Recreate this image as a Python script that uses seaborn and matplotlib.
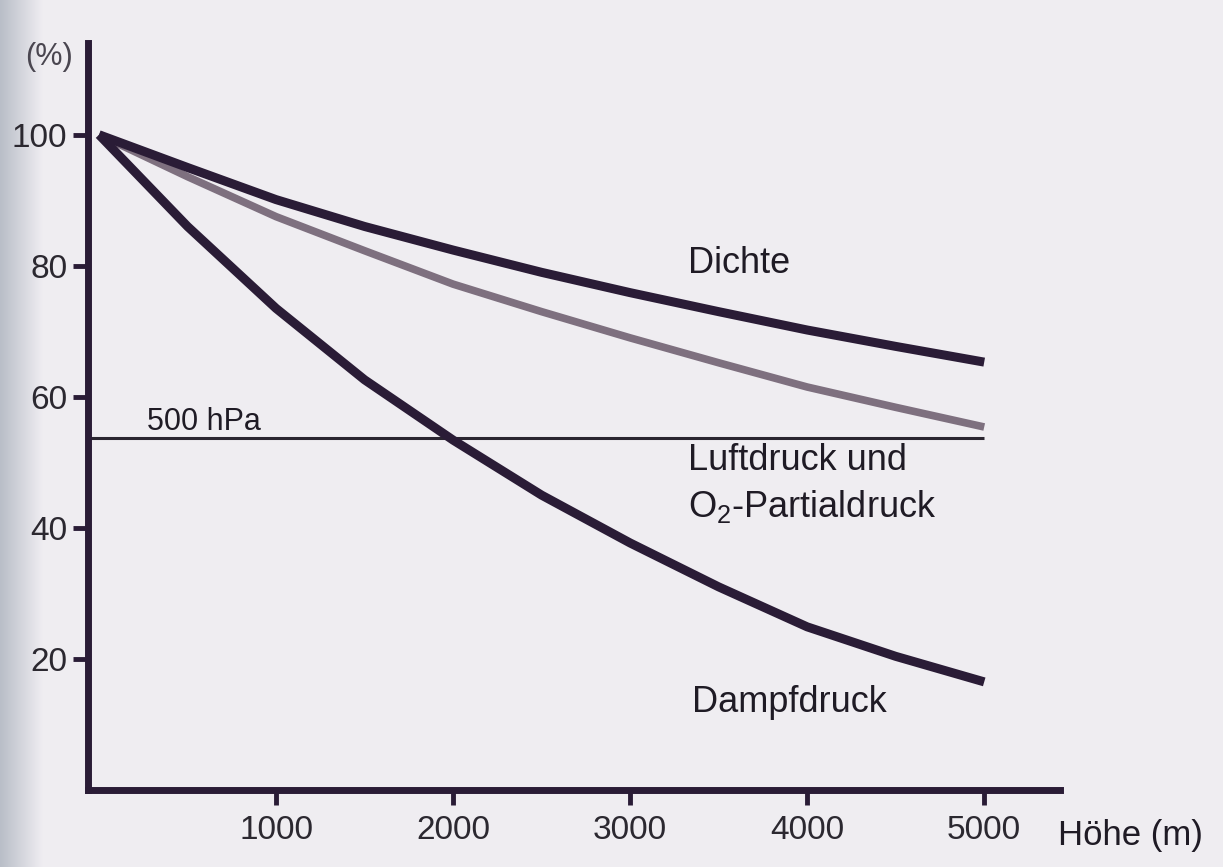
import numpy as np
import pandas as pd
import matplotlib.pyplot as plt
import seaborn as sns

sns.set_theme(style="white")
plt.rcParams['font.family'] = ['Liberation Sans', 'DejaVu Sans']
plt.rcParams['mathtext.fontset'] = 'custom'
plt.rcParams['mathtext.rm'] = 'Liberation Sans'

# Werte (% des Wertes auf Meereshöhe)
hoehe = [0, 500, 1000, 1500, 2000, 2500, 3000, 3500, 4000, 4500, 5000]
dichte = [100, 95.0, 90.1, 86.0, 82.4, 79.0, 75.9, 73.0, 70.2, 67.7, 65.3]
luftdruck = [100, 93.6, 87.5, 82.3, 77.2, 73.0, 69.0, 65.2, 61.5, 58.4, 55.4]
dampfdruck = [100, 86.0, 73.5, 62.6, 53.4, 45.0, 37.7, 31.0, 24.9, 20.4, 16.5]
linie_500hpa = 53.7

x_ticks = [1000, 2000, 3000, 4000, 5000]
y_ticks = [20, 40, 60, 80, 100]

df = pd.DataFrame({'Höhe': hoehe, 'Dichte': dichte,
                   'Luftdruck': luftdruck, 'Dampfdruck': dampfdruck})

bg = '#efedf1'
dunkel = '#2a1c36'
grau = '#7e707f'

fig = plt.figure(figsize=(12.23, 8.67), dpi=100, facecolor=bg)

# grauer Rand links (Scan)
rand = fig.add_axes([0, 0, 0.035, 1], zorder=-1)
grad = np.linspace(0, 1, 50).reshape(1, -1)
rand.imshow(grad, aspect='auto', cmap=sns.blend_palette(['#b9bec8', bg], as_cmap=True),
            extent=[0, 1, 0, 1])
rand.axis('off')

ax = fig.add_axes([0.072, 0.0888, 0.795, 0.8616])
ax.set_facecolor(bg)

sns.lineplot(data=df, x='Höhe', y='Dichte', ax=ax, color=dunkel, linewidth=6.5,
             solid_capstyle='butt', zorder=4)
sns.lineplot(data=df, x='Höhe', y='Luftdruck', ax=ax, color=grau, linewidth=5.5,
             solid_capstyle='butt', zorder=3)
sns.lineplot(data=df, x='Höhe', y='Dampfdruck', ax=ax, color=dunkel, linewidth=6.5,
             solid_capstyle='butt', zorder=4)
ax.hlines(linie_500hpa, -62, 5000, color='#2a2530', linewidth=2.2, zorder=2)

ax.set_xlim(-62, 5430)
ax.set_ylim(0, 114)
ax.set_xticks(x_ticks)
ax.set_yticks(y_ticks)
ax.set_xlabel('')
ax.set_ylabel('')
ax.tick_params(axis='both', direction='out', length=11, width=3.5, color=dunkel,
               labelsize=24, labelcolor='#2b2830', bottom=True, left=True)
ax.tick_params(axis='y', pad=4)
ax.tick_params(axis='x', pad=7)

for s in ['top', 'right']:
    ax.spines[s].set_visible(False)
for s in ['left', 'bottom']:
    ax.spines[s].set_linewidth(5)
    ax.spines[s].set_color(dunkel)

# Beschriftungen
tc = '#1f1b25'
ax.text(3328, 78.9, 'Dichte', fontsize=26, color=tc, va='baseline')
ax.text(3328, 48.9, 'Luftdruck und', fontsize=26, color=tc, va='baseline')
ax.text(3328, 41.7, r'O$_2$-Partialdruck', fontsize=26, color=tc, va='baseline')
ax.text(3350, 11.9, 'Dampfdruck', fontsize=26, color=tc, va='baseline')
ax.text(271, 55.0, '500 hPa', fontsize=22, color=tc, va='baseline')
ax.text(5418, -8.4, 'Höhe (m)', fontsize=25, color=tc, va='baseline', clip_on=False)
ax.text(-282, 111.9, '(%)', fontsize=22, color='#4a4650', ha='center', va='center',
        clip_on=False)

fig.savefig('out.png', dpi=100, facecolor=bg)
